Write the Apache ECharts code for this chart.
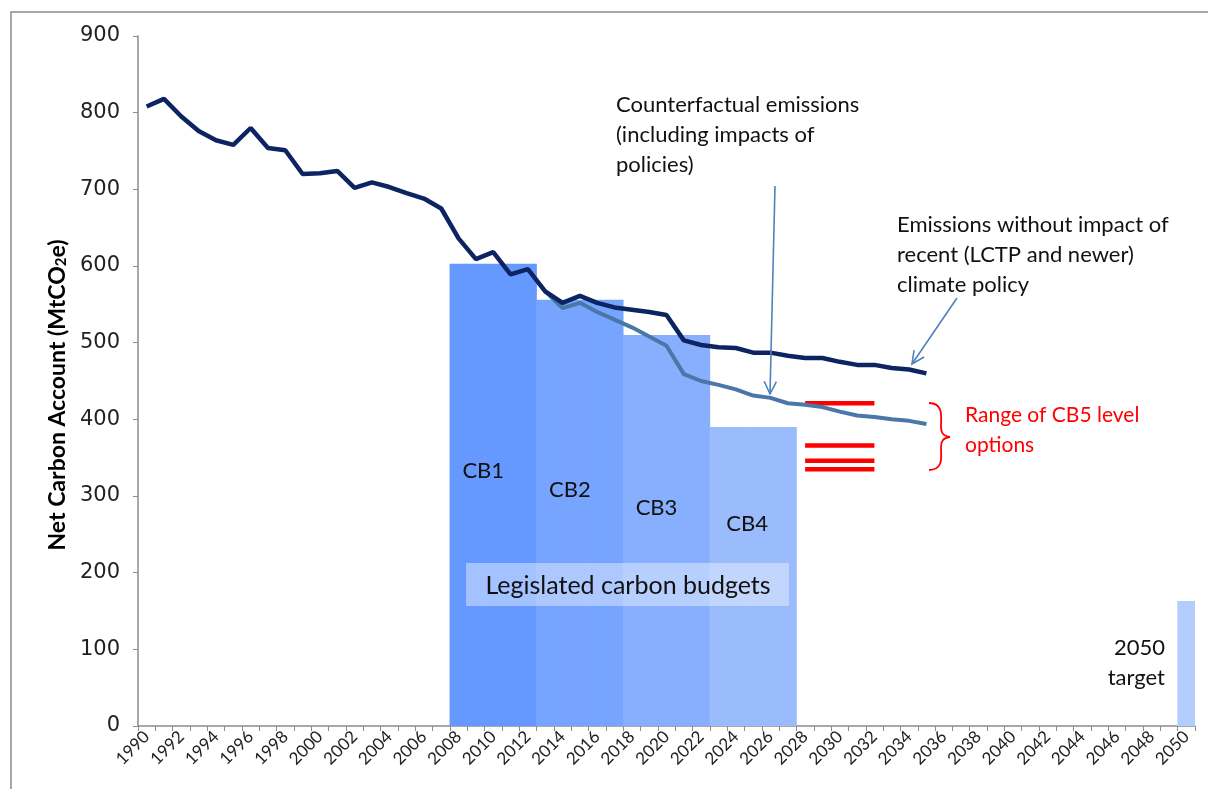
<!DOCTYPE html>
<html>
<head>
<meta charset="utf-8">
<script src="https://cdn.jsdelivr.net/npm/echarts@6/dist/echarts.min.js"></script>
<style>
  html, body { margin: 0; padding: 0; background: #fff; }
  #chart { width: 1208px; height: 789px; }
</style>
</head>
<body>
<div id="chart"></div>
<script>
// years on the category axis
const years = []
for (let y = 1990; y <= 2050; y++) years.push(String(y))

// emissions without impact of recent climate policy, 1990-2035
const baseline = [808, 818, 795, 776, 764, 758, 780, 754, 751, 720, 721, 724, 702, 709, 703, 695,
  688, 675, 636, 609, 618, 589, 596, 567, 552, 561, 552, 546, 543, 540, 536, 503, 497, 494, 493,
  487, 487, 483, 480, 480, 475, 471, 471, 467, 465, 460]

// counterfactual emissions (including impacts of policies), 2013-2035
const counterStart = 2013
const counterfactual = [567, 545, 552, 540, 530, 520, 508, 496, 459, 450, 445, 439, 431, 428, 421,
  419, 416, 410, 405, 403, 400, 398, 394]

// legislated carbon budgets (annual average)
const budgetNames = ['CB1', 'CB2', 'CB3', 'CB4']
const budgetStart = [2008, 2013, 2018, 2023]
const budgetLevel = [603, 556, 510, 390]
const budgetColors = ['#6699ff', '#76a4fe', '#87affd', '#9abbfc']
const target2050 = 163

// CB5 level options, 2028-2032
const cb5Levels = [421, 366, 346, 335]
const cb5Start = 2028

function yearIndex(y) { return y - 1990 }

const barItem = (v, c) => ({ value: v, itemStyle: { color: c } })
const barData = years.map(() => null)
budgetStart.forEach((s, i) => {
  for (let k = 0; k < 5; k++) barData[yearIndex(s + k)] = barItem(budgetLevel[i], budgetColors[i])
})
barData[yearIndex(2050)] = barItem(target2050, '#b3cdfc')

const baselineData = years.map((y, i) => i < baseline.length ? baseline[i] : null)
const counterData = years.map(() => null)
counterfactual.forEach((v, i) => { counterData[yearIndex(counterStart) + i] = v })

const cb5Series = cb5Levels.map(v => {
  const d = years.map(() => null)
  for (let k = 0; k < 5; k++) d[yearIndex(cb5Start + k)] = v
  return {
    type: 'line', data: d, symbol: 'none', silent: true,
    lineStyle: { color: '#ff0000', width: 4.5 }, z: 3
  }
})

const chart = echarts.init(document.getElementById('chart'))
const font = 'Lato, "Open Sans", sans-serif'

const option = {
  animation: false,
  grid: { left: 138, right: 13, top: 36, bottom: 63 },
  xAxis: {
    type: 'category',
    data: years,
    boundaryGap: true,
    axisLine: { lineStyle: { color: '#8c8c8c', width: 1.5 } },
    axisTick: { show: true, interval: 0, length: 5, lineStyle: { color: '#8c8c8c' } },
    axisLabel: { interval: 1, rotate: 45, fontSize: 17, color: '#222', fontFamily: font, margin: 8 }
  },
  yAxis: {
    type: 'value',
    min: 0, max: 900, interval: 100,
    name: '{a|Net Carbon Account (MtCO}{s|2}{a|e)}',
    nameLocation: 'middle',
    nameGap: 50,
    nameTextStyle: {
      padding: [0, 28, 0, 0],
      rich: {
        a: { fontSize: 23, fontWeight: 'bold', fontFamily: font, color: '#000' },
        s: { fontSize: 15, fontWeight: 'bold', fontFamily: font, color: '#000', verticalAlign: 'bottom', padding: [8, 0, 0, 0] }
      }
    },
    splitLine: { show: false },
    axisLine: { show: true, lineStyle: { color: '#8c8c8c', width: 1.5 } },
    axisTick: { show: true, length: 5, lineStyle: { color: '#8c8c8c' } },
    axisLabel: { fontSize: 21, color: '#222', fontFamily: '"DejaVu Sans", sans-serif', margin: 18 }
  },
  series: [
    {
      type: 'bar', data: barData, barWidth: 18, silent: true, z: 1
    },
    ...cb5Series,
    {
      type: 'line', data: counterData, symbol: 'none', silent: true,
      lineStyle: { color: '#4a76a8', width: 4 }, z: 4
    },
    {
      type: 'line', data: baselineData, symbol: 'none', silent: true,
      lineStyle: { color: '#0c2461', width: 4.5 }, z: 5
    }
  ]
}
chart.setOption(option)

// annotations placed from data coordinates where possible
function px(year, val) { return chart.convertToPixel({ xAxisIndex: 0, yAxisIndex: 0 }, [String(year), val]) }

const txt = (x, y, text, opts = {}) => ({
  type: 'text', x, y, z: 20,
  style: Object.assign({ text, fill: '#111', font: '22px ' + font, lineHeight: 30 }, opts)
})

const cbLabelPos = [[2010, 333], [2015, 308], [2020, 284], [2025, 264]]
const cbLabelShift = [-10, -10, -10, -6]
const graphics = []
budgetNames.forEach((n, i) => {
  const p = px(cbLabelPos[i][0], cbLabelPos[i][1])
  graphics.push(txt(p[0] + cbLabelShift[i], p[1], n, { align: 'center', verticalAlign: 'middle' }))
})

// "Legislated carbon budgets" box
graphics.push({
  type: 'rect', z: 15,
  shape: { x: 466, y: 563, width: 323, height: 43 },
  style: { fill: 'rgba(255,255,255,0.4)' }
})
graphics.push(txt(628, 586, 'Legislated carbon budgets', { align: 'center', verticalAlign: 'middle', font: '25px ' + font }))

graphics.push(txt(1165, 663, '2050\ntarget', { align: 'right', verticalAlign: 'middle', lineHeight: 30 }))

graphics.push(txt(616, 90, 'Counterfactual emissions\n(including impacts of\npolicies)', { verticalAlign: 'top' }))
graphics.push(txt(897, 210, 'Emissions without impact of\nrecent (LCTP and newer)\nclimate policy', { verticalAlign: 'top' }))
graphics.push(txt(965, 400, 'Range of CB5 level\noptions', { verticalAlign: 'top', fill: '#ff0000', font: '21px ' + font }))

// arrows
function arrow(x1, y1, x2, y2) {
  const a = Math.atan2(y2 - y1, x2 - x1)
  const L = 14, w = 0.45
  graphics.push({
    type: 'line', z: 18,
    shape: { x1, y1, x2, y2 },
    style: { stroke: '#4f81bd', lineWidth: 1.6 }
  })
  graphics.push({
    type: 'polyline', z: 18,
    shape: { points: [
      [x2 - L * Math.cos(a - w), y2 - L * Math.sin(a - w)],
      [x2, y2],
      [x2 - L * Math.cos(a + w), y2 - L * Math.sin(a + w)]
    ] },
    style: { stroke: '#4f81bd', lineWidth: 1.6, fill: null }
  })
}
arrow(775, 186, 770, 394)
arrow(957, 298, 912, 364)

// red brace, drawn as four bezier pieces
const braceParts = [
  [929, 403, 941, 426, 944, 403, 941, 418],
  [941, 426, 950, 437, 941, 433, 943, 436],
  [950, 437, 941, 448, 943, 438, 941, 441],
  [941, 448, 929, 470, 941, 456, 944, 470]
]
braceParts.forEach(b => {
  graphics.push({
    type: 'bezierCurve', z: 18,
    shape: { x1: b[0], y1: b[1], x2: b[2], y2: b[3], cpx1: b[4], cpy1: b[5], cpx2: b[6], cpy2: b[7] },
    style: { stroke: '#ff0000', lineWidth: 1.8, fill: null }
  })
})

// outer frame
graphics.push({
  type: 'rect', z: 0,
  shape: { x: 11, y: 12, width: 1220, height: 820 },
  style: { stroke: '#8c8c8c', lineWidth: 1.5, fill: null }
})

chart.setOption({ graphic: graphics })
</script>
</body>
</html>
